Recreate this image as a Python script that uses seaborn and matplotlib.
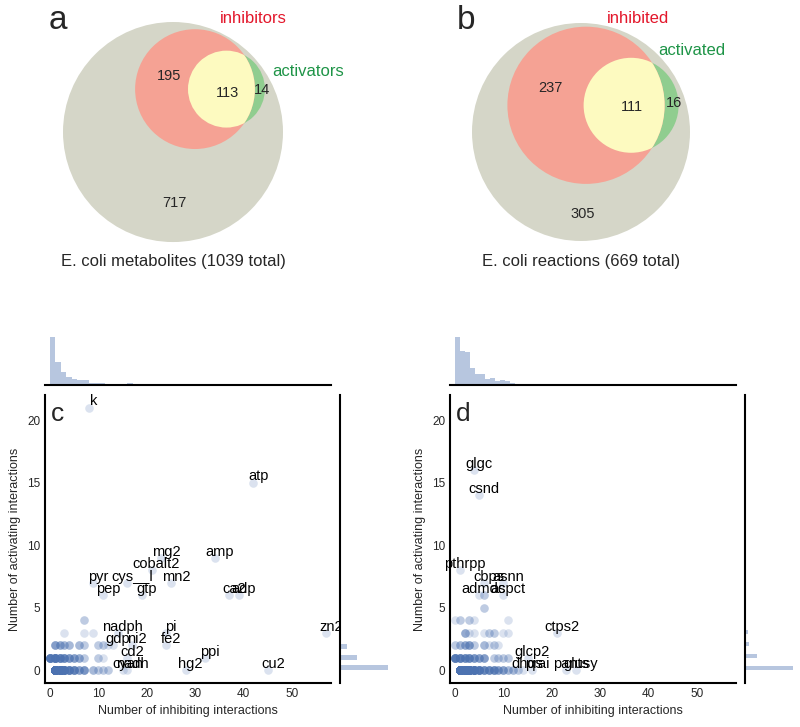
import numpy as np
import pandas as pd
import matplotlib
matplotlib.use('Agg')
import matplotlib.pyplot as plt
import seaborn as sns
from matplotlib.patches import Circle

# ---------------- venn counts ----------------
met_total = 1039
met_inh_only, met_both, met_act_only = 195, 113, 14
rxn_total = 669
rxn_inh_only, rxn_both, rxn_act_only = 237, 111, 16

# ---------------- panel c: metabolites ----------------
# labelled metabolites (one point each)
c_names = ['k', 'atp', 'mg2', 'amp', 'cobalt2', 'pyr', 'cys__l', 'mn2', 'pep', 'gtp',
           'ca2', 'adp', 'nadph', 'pi', 'zn2', 'gdp', 'ni2', 'fe2', 'cd2', 'ppi',
           'cyan', 'nadh', 'hg2', 'cu2']
c_name_x = [8, 42, 23, 34, 21, 9, 16, 25, 11, 19, 37, 39, 14, 24, 57, 13, 17, 24, 16, 32, 15, 16, 28, 45]
c_name_y = [21, 15, 9, 9, 8, 7, 7, 7, 6, 6, 6, 6, 3, 3, 3, 2, 2, 2, 1, 1, 0, 0, 0, 0]
# unlabelled metabolites: position and how many share it
c_x = [1, 2, 3, 4, 5, 6, 7, 9, 10, 11, 12,
       0, 1, 2, 3, 4, 5, 6, 7, 10, 11,
       1, 2, 3, 4, 6, 7, 10, 11, 12,
       3, 7, 9,
       7]
c_y = [0, 0, 0, 0, 0, 0, 0, 0, 0, 0, 0,
       1, 1, 1, 1, 1, 1, 1, 1, 1, 1,
       2, 2, 2, 2, 2, 2, 2, 2, 2,
       3, 3, 3,
       4]
c_n = [86, 44, 20, 12, 9, 5, 6, 3, 2, 2, 2,
       14, 16, 10, 8, 6, 5, 4, 2, 2, 1,
       5, 4, 3, 3, 3, 2, 2, 2, 1,
       1, 1, 1,
       2]

# ---------------- panel d: reactions ----------------
d_names = ['glgc', 'csnd', 'pthrpp', 'cbps', 'asnn', 'admdc', 'aspct', 'ctps2', 'glcp2',
           'dhqs', 'prai', 'pants', 'glusy']
d_name_x = [4, 5, 1, 6, 10, 5, 10, 21, 15, 14, 16, 23, 25]
d_name_y = [16, 14, 8, 7, 7, 6, 6, 3, 1, 0, 0, 0, 0]
d_x = [1, 2, 3, 4, 5, 6, 7, 8, 9, 10, 11, 12, 13,
       0, 1, 2, 3, 4, 5, 6, 8, 9, 10, 11,
       0, 1, 2, 3, 4, 6, 7, 8, 9,
       2, 3, 4, 6, 7, 8, 10, 11,
       0, 1, 3, 4, 11,
       6, 6]
d_y = [0, 0, 0, 0, 0, 0, 0, 0, 0, 0, 0, 0, 0,
       1, 1, 1, 1, 1, 1, 1, 1, 1, 1, 1,
       2, 2, 2, 2, 2, 2, 2, 2, 2,
       3, 3, 3, 3, 3, 3, 3, 3,
       4, 4, 4, 4, 4,
       5, 6]
d_n = [64, 52, 50, 22, 14, 8, 8, 8, 5, 5, 3, 3, 2,
       12, 10, 8, 8, 6, 5, 5, 2, 2, 2, 2,
       2, 3, 4, 5, 2, 3, 1, 2, 1,
       4, 1, 1, 1, 2, 2, 1, 1,
       1, 2, 2, 1, 1,
       2, 2]

BLUE = '#4c72b0'


def build_df(xs, ys, ns, name_x, name_y):
    x = list(np.repeat(xs, ns)) + list(name_x)
    y = list(np.repeat(ys, ns)) + list(name_y)
    return pd.DataFrame({'inhibiting': x, 'activating': y})


def lens_area(r1, r2, d):
    if d >= r1 + r2:
        return 0.0
    if d <= abs(r1 - r2):
        return np.pi * min(r1, r2) ** 2
    a1 = r1 ** 2 * np.arccos((d * d + r1 * r1 - r2 * r2) / (2 * d * r1))
    a2 = r2 ** 2 * np.arccos((d * d + r2 * r2 - r1 * r1) / (2 * d * r2))
    a3 = 0.5 * np.sqrt((-d + r1 + r2) * (d + r1 - r2) * (d - r1 + r2) * (d + r1 + r2))
    return a1 + a2 - a3


def find_dist(r1, r2, target):
    lo, hi = abs(r1 - r2), r1 + r2
    for _ in range(60):
        mid = 0.5 * (lo + hi)
        if lens_area(r1, r2, mid) > target:
            lo = mid
        else:
            hi = mid
    return 0.5 * (lo + hi)


def draw_venn(ax, total, inh_only, both, act_only, red_off):
    # unit circle = all items, areas proportional to counts
    r_inh = np.sqrt((inh_only + both) / total)
    r_act = np.sqrt((act_only + both) / total)
    dist = find_dist(r_inh, r_act, np.pi * both / total)
    red_c = red_off
    act_c = (red_off[0] + dist, red_off[1])
    ax.add_patch(Circle((0, 0), 1.0, color='#d5d6c8', lw=0))
    ax.add_patch(Circle(act_c, r_act, color='#90cd8f', lw=0))
    red = Circle(red_c, r_inh, color='#f5a294', lw=0)
    ax.add_patch(red)
    yel = Circle(act_c, r_act, color='#fdfac0', lw=0)
    ax.add_patch(yel)
    yel.set_clip_path(red)


sns.set_style('white')
plt.rcParams['font.family'] = ['Liberation Sans', 'DejaVu Sans']

W, H = 800, 727
fig = plt.figure(figsize=(W / 100, H / 100), dpi=100)


def px_axes(l, t, r, b):
    return fig.add_axes([l / W, 1 - b / H, (r - l) / W, (b - t) / H])


RED_TXT = '#e3172b'
GREEN_TXT = '#1e9447'

# ---------------- panel a ----------------
ax_a = px_axes(8, 0, 338, 280)
draw_venn(ax_a, met_total, met_inh_only, met_both, met_act_only, (0.20, 0.39))
ax_a.set_xlim(-1.5, 1.5)
ax_a.set_ylim(-1.345, 1.2)
ax_a.axis('off')
ax_a.text(0.727, 0.989, 'inhibitors', color=RED_TXT, fontsize=12, ha='center', va='baseline')
ax_a.text(1.227, 0.511, 'activators', color=GREEN_TXT, fontsize=12, ha='center', va='baseline')
ax_a.text(-0.036, 0.477, str(met_inh_only), fontsize=10.5, ha='center', va='baseline')
ax_a.text(0.491, 0.315, str(met_both), fontsize=10.5, ha='center', va='baseline')
ax_a.text(0.809, 0.346, str(met_act_only), fontsize=10.5, ha='center', va='baseline')
ax_a.text(0.009, -0.677, str(met_total - met_inh_only - met_both - met_act_only),
          fontsize=10.5, ha='center', va='baseline')
ax_a.text(0, -1.218, 'E. coli metabolites (%d total)' % met_total, fontsize=12,
          ha='center', va='baseline')

# ---------------- panel b ----------------
ax_b = px_axes(417.5, 0, 744.5, 280)
draw_venn(ax_b, rxn_total, rxn_inh_only, rxn_both, rxn_act_only, (0.046, 0.245))
ax_b.set_xlim(-1.5, 1.5)
ax_b.set_ylim(-1.358, 1.211)
ax_b.axis('off')
ax_b.text(0.523, 0.998, 'inhibited', color=RED_TXT, fontsize=12, ha='center', va='baseline')
ax_b.text(1.018, 0.710, 'activated', color=GREEN_TXT, fontsize=12, ha='center', va='baseline')
ax_b.text(-0.284, 0.365, str(rxn_inh_only), fontsize=10.5, ha='center', va='baseline')
ax_b.text(0.468, 0.193, str(rxn_both), fontsize=10.5, ha='center', va='baseline')
ax_b.text(0.853, 0.225, str(rxn_act_only), fontsize=10.5, ha='center', va='baseline')
ax_b.text(0.018, -0.786, str(rxn_total - rxn_inh_only - rxn_both - rxn_act_only),
          fontsize=10.5, ha='center', va='baseline')
ax_b.text(0, -1.229, 'E. coli reactions (%d total)' % rxn_total, fontsize=12,
          ha='center', va='baseline')

fig.text(58 / W, 1 - 29 / H, 'a', fontsize=24, ha='center', va='baseline')
fig.text(466 / W, 1 - 29 / H, 'b', fontsize=24, ha='center', va='baseline')


# ---------------- scatter panels ----------------
def joint_panel(left, df, names, name_x, name_y, letter):
    ax = px_axes(left, 395, left + 286, 683)
    ax_top = px_axes(left, 335, left + 286, 385)
    ax_right = px_axes(left + 295, 395, left + 345, 683)

    sns.scatterplot(data=df, x='inhibiting', y='activating', ax=ax, color=BLUE,
                    alpha=0.2, s=38, linewidth=0, legend=False)
    for name, x, y in zip(names, name_x, name_y):
        ax.text(x + 1, y + 0.5, name, fontsize=10.5, ha='center', va='center', color='black')
    ax.set_xlim(-1, 58)
    ax.set_ylim(-1, 22)
    ax.set_xticks([0, 10, 20, 30, 40, 50])
    ax.set_yticks([0, 5, 10, 15, 20])
    ax.tick_params(labelsize=8.5, length=0, colors='.15')
    ax.set_xlabel('Number of inhibiting interactions', fontsize=9, color='.15')
    ax.set_ylabel('Number of activating interactions', fontsize=9, color='.15')
    sns.despine(ax=ax)
    for s in ['left', 'bottom']:
        ax.spines[s].set_color('black')
        ax.spines[s].set_linewidth(1.5)
    ax.text(0.045, 0.935, letter, transform=ax.transAxes, fontsize=19, ha='center', va='center')

    sns.histplot(x=df['inhibiting'], bins=min(50, int(df['inhibiting'].max()) - 1), ax=ax_top,
                 color=BLUE, alpha=0.4, linewidth=0, stat='density')
    ax_top.set_xlim(-1, 58)
    sns.histplot(y=df['activating'], bins=50, ax=ax_right, color=BLUE, alpha=0.4,
                 linewidth=0, stat='density')
    ax_right.set_ylim(-1, 22)

    for m, keep in [(ax_top, 'bottom'), (ax_right, 'left')]:
        m.set_xticks([])
        m.set_yticks([])
        m.set_xlabel('')
        m.set_ylabel('')
        for s in ['left', 'right', 'top', 'bottom']:
            m.spines[s].set_visible(s == keep)
        m.spines[keep].set_color('black')
        m.spines[keep].set_linewidth(1.5)


df_c = build_df(c_x, c_y, c_n, c_name_x, c_name_y)
df_d = build_df(d_x, d_y, d_n, d_name_x, d_name_y)
joint_panel(45, df_c, c_names, c_name_x, c_name_y, 'c')
joint_panel(450, df_d, d_names, d_name_x, d_name_y, 'd')

fig.savefig('out.png', dpi=100)
